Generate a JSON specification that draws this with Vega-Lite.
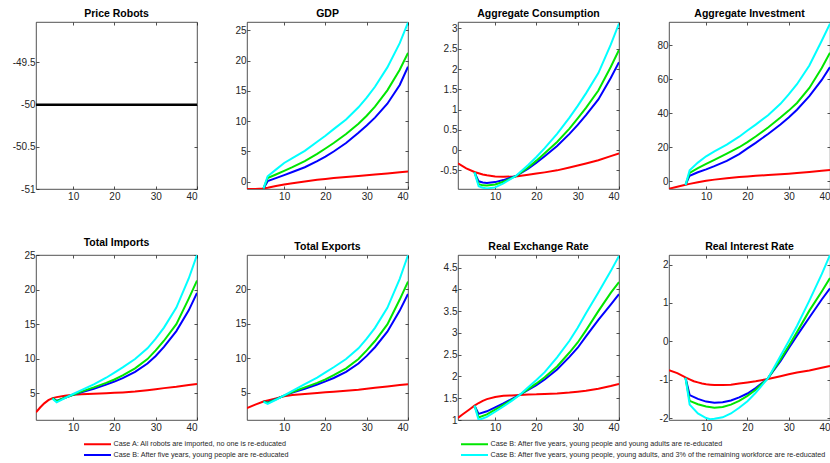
{
  "$schema": "https://vega.github.io/schema/vega-lite/v6.json",
  "padding": {"left": 0, "top": 8, "right": 0, "bottom": 0},
  "background": "white",
  "data": {"values": [
    {"p":"PR","t":1,"A":-50},{"p":"PR","t":40,"A":-50},

    {"p":"GDP","t":1,"A":-1.2},
    {"p":"GDP","t":3,"A":-1.2},
    {"p":"GDP","t":5,"A":-1.1,"B":-1.1,"G":-1.1,"C":-1.1},
    {"p":"GDP","t":6,"A":-0.98,"B":0.1,"G":0.6,"C":0.9},
    {"p":"GDP","t":8,"A":-0.7,"B":0.6,"G":1.2,"C":2.0},
    {"p":"GDP","t":10,"A":-0.45,"B":1.1,"G":1.8,"C":3.1},
    {"p":"GDP","t":12,"A":-0.25,"B":1.6,"G":2.4,"C":3.9},
    {"p":"GDP","t":15,"A":0.05,"B":2.4,"G":3.4,"C":5.1},
    {"p":"GDP","t":18,"A":0.32,"B":3.4,"G":4.6,"C":6.6},
    {"p":"GDP","t":20,"A":0.47,"B":4.15,"G":5.5,"C":7.6},
    {"p":"GDP","t":22,"A":0.6,"B":5.0,"G":6.4,"C":8.7},
    {"p":"GDP","t":25,"A":0.78,"B":6.4,"G":7.9,"C":10.3},
    {"p":"GDP","t":28,"A":0.95,"B":8.1,"G":9.6,"C":12.3},
    {"p":"GDP","t":30,"A":1.07,"B":9.3,"G":10.9,"C":13.9},
    {"p":"GDP","t":32,"A":1.2,"B":10.6,"G":12.4,"C":15.7},
    {"p":"GDP","t":35,"A":1.37,"B":12.9,"G":15.1,"C":18.9},
    {"p":"GDP","t":38,"A":1.57,"B":16.0,"G":18.5,"C":22.9},
    {"p":"GDP","t":40,"A":1.7,"B":19.0,"G":21.3,"C":26.3},

    {"p":"Cons","t":1,"A":-0.33},
    {"p":"Cons","t":3,"A":-0.45},
    {"p":"Cons","t":5,"A":-0.54,"B":-0.55,"G":-0.55,"C":-0.55},
    {"p":"Cons","t":6,"A":-0.57,"B":-0.77,"G":-0.84,"C":-0.89},
    {"p":"Cons","t":7,"A":-0.6,"B":-0.8,"G":-0.87,"C":-0.93},
    {"p":"Cons","t":8,"A":-0.62,"B":-0.81,"G":-0.875,"C":-0.95},
    {"p":"Cons","t":10,"A":-0.65,"B":-0.79,"G":-0.85,"C":-0.92},
    {"p":"Cons","t":12,"A":-0.66,"B":-0.74,"G":-0.78,"C":-0.82},
    {"p":"Cons","t":15,"A":-0.65,"B":-0.64,"G":-0.645,"C":-0.64},
    {"p":"Cons","t":18,"A":-0.61,"B":-0.46,"G":-0.43,"C":-0.37},
    {"p":"Cons","t":20,"A":-0.58,"B":-0.31,"G":-0.26,"C":-0.17},
    {"p":"Cons","t":22,"A":-0.55,"B":-0.15,"G":-0.08,"C":0.05},
    {"p":"Cons","t":25,"A":-0.5,"B":0.1,"G":0.2,"C":0.4},
    {"p":"Cons","t":28,"A":-0.43,"B":0.4,"G":0.53,"C":0.8},
    {"p":"Cons","t":30,"A":-0.38,"B":0.62,"G":0.78,"C":1.09},
    {"p":"Cons","t":32,"A":-0.33,"B":0.86,"G":1.04,"C":1.4},
    {"p":"Cons","t":35,"A":-0.25,"B":1.25,"G":1.47,"C":1.9},
    {"p":"Cons","t":38,"A":-0.15,"B":1.78,"G":2.05,"C":2.6},
    {"p":"Cons","t":40,"A":-0.08,"B":2.17,"G":2.47,"C":3.12},

    {"p":"Inv","t":1,"A":-4.3},
    {"p":"Inv","t":3,"A":-3.2},
    {"p":"Inv","t":5,"A":-2.0,"B":-2.1,"G":-2.1,"C":-2.1},
    {"p":"Inv","t":6,"A":-1.5,"B":3.3,"G":5.0,"C":6.5},
    {"p":"Inv","t":8,"A":-0.5,"B":5.3,"G":7.8,"C":11.0},
    {"p":"Inv","t":10,"A":0.4,"B":7.0,"G":10.2,"C":14.7},
    {"p":"Inv","t":12,"A":1.0,"B":8.9,"G":12.6,"C":17.6},
    {"p":"Inv","t":15,"A":1.8,"B":12.0,"G":16.3,"C":21.5},
    {"p":"Inv","t":18,"A":2.5,"B":16.0,"G":20.0,"C":26.2},
    {"p":"Inv","t":20,"A":2.9,"B":19.3,"G":23.0,"C":29.8},
    {"p":"Inv","t":22,"A":3.25,"B":22.6,"G":26.3,"C":33.3},
    {"p":"Inv","t":25,"A":3.7,"B":27.8,"G":31.6,"C":38.8},
    {"p":"Inv","t":28,"A":4.2,"B":33.3,"G":37.4,"C":45.5},
    {"p":"Inv","t":30,"A":4.5,"B":37.5,"G":41.5,"C":51.0},
    {"p":"Inv","t":32,"A":4.9,"B":42.0,"G":46.0,"C":57.0},
    {"p":"Inv","t":35,"A":5.5,"B":50.0,"G":54.8,"C":68.0},
    {"p":"Inv","t":38,"A":6.2,"B":59.5,"G":66.5,"C":82.5},
    {"p":"Inv","t":40,"A":6.6,"B":67.0,"G":75.5,"C":92.5},

    {"p":"Imp","t":1,"A":2.25},
    {"p":"Imp","t":2,"A":2.95},
    {"p":"Imp","t":3,"A":3.55},
    {"p":"Imp","t":4,"A":4.0},
    {"p":"Imp","t":5,"A":4.3,"B":4.3,"G":4.3,"C":4.2},
    {"p":"Imp","t":6,"A":4.45,"B":3.9,"G":3.85,"C":3.7},
    {"p":"Imp","t":8,"A":4.65,"B":4.35,"G":4.35,"C":4.3},
    {"p":"Imp","t":10,"A":4.8,"B":4.8,"G":4.8,"C":4.9},
    {"p":"Imp","t":12,"A":4.88,"B":5.15,"G":5.25,"C":5.45},
    {"p":"Imp","t":15,"A":4.95,"B":5.65,"G":5.85,"C":6.3},
    {"p":"Imp","t":18,"A":5.02,"B":6.25,"G":6.5,"C":7.25},
    {"p":"Imp","t":20,"A":5.07,"B":6.7,"G":7.0,"C":8.0},
    {"p":"Imp","t":22,"A":5.13,"B":7.2,"G":7.6,"C":8.75},
    {"p":"Imp","t":25,"A":5.25,"B":8.1,"G":8.6,"C":9.95},
    {"p":"Imp","t":28,"A":5.45,"B":9.3,"G":9.95,"C":11.5},
    {"p":"Imp","t":30,"A":5.6,"B":10.4,"G":11.2,"C":12.9},
    {"p":"Imp","t":32,"A":5.75,"B":11.7,"G":12.6,"C":14.5},
    {"p":"Imp","t":35,"A":5.95,"B":14.0,"G":15.0,"C":17.4},
    {"p":"Imp","t":38,"A":6.2,"B":17.0,"G":18.7,"C":21.6},
    {"p":"Imp","t":40,"A":6.35,"B":19.5,"G":21.3,"C":25.0},

    {"p":"Exp","t":1,"A":2.8},
    {"p":"Exp","t":3,"A":3.3},
    {"p":"Exp","t":5,"A":3.75,"B":3.75,"G":3.75,"C":3.7},
    {"p":"Exp","t":6,"A":3.9,"B":3.6,"G":3.55,"C":3.4},
    {"p":"Exp","t":8,"A":4.2,"B":4.1,"G":4.05,"C":4.0},
    {"p":"Exp","t":10,"A":4.5,"B":4.6,"G":4.6,"C":4.65},
    {"p":"Exp","t":12,"A":4.68,"B":5.05,"G":5.12,"C":5.3},
    {"p":"Exp","t":15,"A":4.85,"B":5.6,"G":5.8,"C":6.25},
    {"p":"Exp","t":18,"A":4.98,"B":6.2,"G":6.45,"C":7.2},
    {"p":"Exp","t":20,"A":5.07,"B":6.65,"G":6.95,"C":7.95},
    {"p":"Exp","t":22,"A":5.15,"B":7.15,"G":7.55,"C":8.7},
    {"p":"Exp","t":25,"A":5.3,"B":8.05,"G":8.55,"C":9.9},
    {"p":"Exp","t":28,"A":5.45,"B":9.25,"G":9.9,"C":11.45},
    {"p":"Exp","t":30,"A":5.6,"B":10.35,"G":11.15,"C":12.85},
    {"p":"Exp","t":32,"A":5.73,"B":11.6,"G":12.5,"C":14.4},
    {"p":"Exp","t":35,"A":5.92,"B":13.85,"G":14.9,"C":17.3},
    {"p":"Exp","t":38,"A":6.12,"B":16.9,"G":18.5,"C":21.5},
    {"p":"Exp","t":40,"A":6.25,"B":19.3,"G":21.1,"C":24.9},

    {"p":"RER","t":1,"A":1.05},
    {"p":"RER","t":2,"A":1.12},
    {"p":"RER","t":3,"A":1.19},
    {"p":"RER","t":4,"A":1.26},
    {"p":"RER","t":5,"A":1.33,"B":1.33,"G":1.33,"C":1.33},
    {"p":"RER","t":6,"A":1.39,"B":1.14,"G":1.06,"C":1.0},
    {"p":"RER","t":7,"A":1.44},
    {"p":"RER","t":8,"A":1.48,"B":1.2,"G":1.13,"C":1.07},
    {"p":"RER","t":10,"A":1.53,"B":1.29,"G":1.24,"C":1.19},
    {"p":"RER","t":12,"A":1.555,"B":1.38,"G":1.35,"C":1.31},
    {"p":"RER","t":14,"A":1.565,"B":1.48,"G":1.46,"C":1.44},
    {"p":"RER","t":16,"A":1.575,"B":1.58,"G":1.58,"C":1.58},
    {"p":"RER","t":18,"A":1.585,"B":1.69,"G":1.71,"C":1.75},
    {"p":"RER","t":20,"A":1.59,"B":1.8,"G":1.84,"C":1.92},
    {"p":"RER","t":22,"A":1.6,"B":1.93,"G":1.98,"C":2.1},
    {"p":"RER","t":25,"A":1.61,"B":2.16,"G":2.23,"C":2.44},
    {"p":"RER","t":28,"A":1.63,"B":2.45,"G":2.55,"C":2.82},
    {"p":"RER","t":30,"A":1.65,"B":2.66,"G":2.78,"C":3.12},
    {"p":"RER","t":32,"A":1.67,"B":2.92,"G":3.06,"C":3.45},
    {"p":"RER","t":35,"A":1.72,"B":3.3,"G":3.5,"C":3.93},
    {"p":"RER","t":38,"A":1.78,"B":3.65,"G":3.92,"C":4.42},
    {"p":"RER","t":40,"A":1.83,"B":3.89,"G":4.17,"C":4.77},

    {"p":"RIR","t":1,"A":-0.75},
    {"p":"RIR","t":3,"A":-0.83},
    {"p":"RIR","t":5,"A":-0.94,"B":-0.95,"G":-0.95,"C":-0.95},
    {"p":"RIR","t":6,"A":-0.99,"B":-1.4,"G":-1.55,"C":-1.65},
    {"p":"RIR","t":7,"A":-1.04},
    {"p":"RIR","t":8,"A":-1.07,"B":-1.5,"G":-1.64,"C":-1.88},
    {"p":"RIR","t":9,"A":-1.1},
    {"p":"RIR","t":10,"A":-1.12,"B":-1.57,"G":-1.7,"C":-2.0},
    {"p":"RIR","t":11,"A":-1.13,"C":-2.03},
    {"p":"RIR","t":12,"A":-1.14,"B":-1.6,"G":-1.73,"C":-2.02},
    {"p":"RIR","t":14,"A":-1.14,"B":-1.59,"G":-1.71,"C":-1.98},
    {"p":"RIR","t":16,"A":-1.13,"B":-1.54,"G":-1.65,"C":-1.88},
    {"p":"RIR","t":18,"A":-1.1,"B":-1.46,"G":-1.55,"C":-1.73},
    {"p":"RIR","t":20,"A":-1.07,"B":-1.36,"G":-1.42,"C":-1.56},
    {"p":"RIR","t":22,"A":-1.04,"B":-1.22,"G":-1.26,"C":-1.34},
    {"p":"RIR","t":25,"A":-0.98,"B":-0.96,"G":-0.96,"C":-0.96},
    {"p":"RIR","t":28,"A":-0.91,"B":-0.52,"G":-0.47,"C":-0.38},
    {"p":"RIR","t":30,"A":-0.86,"B":-0.18,"G":-0.12,"C":0.0},
    {"p":"RIR","t":32,"A":-0.81,"B":0.15,"G":0.24,"C":0.4},
    {"p":"RIR","t":35,"A":-0.76,"B":0.62,"G":0.8,"C":1.06},
    {"p":"RIR","t":38,"A":-0.69,"B":1.09,"G":1.3,"C":1.75},
    {"p":"RIR","t":40,"A":-0.64,"B":1.38,"G":1.65,"C":2.25}
  ]},
  "spacing": 33,
  "vconcat": [
    {"spacing": 13, "hconcat": [
      {"title": "Price Robots", "width": 161, "height": 167,
       "transform": [{"filter": "datum.p=='PR'"}, {"fold": ["A"], "as": ["c", "v"]}],
       "layer": [
        {"mark": {"type": "line", "color": "#000000", "strokeWidth": 2.5, "clip": true},
         "encoding": {
          "x": {"field": "t", "type": "quantitative", "scale": {"domain": [1, 40], "nice": false, "zero": false}, "axis": {"values": [10, 20, 30, 40], "title": null, "minExtent": 14, "maxExtent": 14}},
          "y": {"field": "v", "type": "quantitative", "scale": {"domain": [-51, -49.02], "nice": false, "zero": false}, "axis": {"values": [-51, -50.5, -50, -49.5], "labelExpr": "''+datum.value", "title": null, "minExtent": 35, "maxExtent": 35}}
         }},
        {"mark": {"type": "point", "opacity": 0, "size": 1, "clip": true},
         "encoding": {
          "x": {"field": "t", "type": "quantitative", "scale": {"domain": [1, 40], "nice": false, "zero": false}, "axis": {"orient": "top", "values": [10, 20, 30, 40], "labels": false, "title": null, "minExtent": 0, "maxExtent": 0}},
          "y": {"field": "v", "type": "quantitative", "scale": {"domain": [-51, -49.02], "nice": false, "zero": false}, "axis": {"orient": "right", "values": [-51, -50.5, -50, -49.5], "labels": false, "title": null, "minExtent": 0, "maxExtent": 0}}
         }}
       ],
       "resolve": {"axis": {"x": "independent", "y": "independent"}}
      },
      {"title": "GDP", "width": 161, "height": 167,
       "transform": [{"filter": "datum.p=='GDP'"}, {"fold": ["A", "B", "G", "C"], "as": ["c", "v"]}, {"filter": "isValid(datum.v)"}],
       "layer": [
        {"mark": {"type": "line", "strokeWidth": 2, "clip": true},
         "encoding": {
          "x": {"field": "t", "type": "quantitative", "scale": {"domain": [1, 40], "nice": false, "zero": false}, "axis": {"values": [10, 20, 30, 40], "title": null, "minExtent": 14, "maxExtent": 14}},
          "y": {"field": "v", "type": "quantitative", "scale": {"domain": [-1.2, 26.4], "nice": false, "zero": false}, "axis": {"values": [0, 5, 10, 15, 20, 25], "labelExpr": "''+datum.value", "title": null, "minExtent": 35, "maxExtent": 35}},
          "color": {"field": "c", "type": "nominal", "scale": {"domain": ["A", "B", "G", "C"], "range": ["#ff0000", "#0000ff", "#00e600", "#00ffff"]},
            "legend": {"orient": "none", "legendX": 56, "legendY": 416.5, "columns": 2, "columnPadding": 168, "rowPadding": 1, "symbolType": "M-3,0H3", "symbolSize": 81, "symbolStrokeWidth": 2, "labelFont": "Liberation Sans", "labelFontSize": 7.2, "labelColor": "#262626", "labelLimit": 0, "labelOffset": 10.5, "title": null,
              "labelExpr": "datum.label=='A' ? 'Case A: All robots are imported, no one is re-educated' : datum.label=='B' ? 'Case B: After five years, young people are re-educated' : datum.label=='G' ? 'Case B: After five years, young people and young adults are re-educated' : 'Case B: After five years, young people, young adults, and 3% of the remaining workforce are re-educated'"}}
         }},
        {"mark": {"type": "point", "opacity": 0, "size": 1, "clip": true},
         "encoding": {
          "x": {"field": "t", "type": "quantitative", "scale": {"domain": [1, 40], "nice": false, "zero": false}, "axis": {"orient": "top", "values": [10, 20, 30, 40], "labels": false, "title": null, "minExtent": 0, "maxExtent": 0}},
          "y": {"field": "v", "type": "quantitative", "scale": {"domain": [-1.2, 26.4], "nice": false, "zero": false}, "axis": {"orient": "right", "values": [0, 5, 10, 15, 20, 25], "labels": false, "title": null, "minExtent": 0, "maxExtent": 0}}
         }}
       ],
       "resolve": {"axis": {"x": "independent", "y": "independent"}}
      },
      {"title": "Aggregate Consumption", "width": 161, "height": 167,
       "transform": [{"filter": "datum.p=='Cons'"}, {"fold": ["A", "B", "G", "C"], "as": ["c", "v"]}, {"filter": "isValid(datum.v)"}],
       "layer": [
        {"mark": {"type": "line", "strokeWidth": 2, "clip": true},
         "encoding": {
          "x": {"field": "t", "type": "quantitative", "scale": {"domain": [1, 40], "nice": false, "zero": false}, "axis": {"values": [10, 20, 30, 40], "title": null, "minExtent": 14, "maxExtent": 14}},
          "y": {"field": "v", "type": "quantitative", "scale": {"domain": [-0.96, 3.16], "nice": false, "zero": false}, "axis": {"values": [-0.5, 0, 0.5, 1, 1.5, 2, 2.5, 3], "labelExpr": "''+datum.value", "title": null, "minExtent": 35, "maxExtent": 35}},
          "color": {"field": "c", "type": "nominal", "scale": {"domain": ["A", "B", "G", "C"], "range": ["#ff0000", "#0000ff", "#00e600", "#00ffff"]}}
         }},
        {"mark": {"type": "point", "opacity": 0, "size": 1, "clip": true},
         "encoding": {
          "x": {"field": "t", "type": "quantitative", "scale": {"domain": [1, 40], "nice": false, "zero": false}, "axis": {"orient": "top", "values": [10, 20, 30, 40], "labels": false, "title": null, "minExtent": 0, "maxExtent": 0}},
          "y": {"field": "v", "type": "quantitative", "scale": {"domain": [-0.96, 3.16], "nice": false, "zero": false}, "axis": {"orient": "right", "values": [-0.5, 0, 0.5, 1, 1.5, 2, 2.5, 3], "labels": false, "title": null, "minExtent": 0, "maxExtent": 0}}
         }}
       ],
       "resolve": {"axis": {"x": "independent", "y": "independent"}}
      },
      {"title": "Aggregate Investment", "width": 161, "height": 167,
       "transform": [{"filter": "datum.p=='Inv'"}, {"fold": ["A", "B", "G", "C"], "as": ["c", "v"]}, {"filter": "isValid(datum.v)"}],
       "layer": [
        {"mark": {"type": "line", "strokeWidth": 2, "clip": true},
         "encoding": {
          "x": {"field": "t", "type": "quantitative", "scale": {"domain": [1, 40], "nice": false, "zero": false}, "axis": {"values": [10, 20, 30, 40], "title": null, "minExtent": 14, "maxExtent": 14}},
          "y": {"field": "v", "type": "quantitative", "scale": {"domain": [-4.5, 93.5], "nice": false, "zero": false}, "axis": {"values": [0, 20, 40, 60, 80], "labelExpr": "''+datum.value", "title": null, "minExtent": 35, "maxExtent": 35}},
          "color": {"field": "c", "type": "nominal", "scale": {"domain": ["A", "B", "G", "C"], "range": ["#ff0000", "#0000ff", "#00e600", "#00ffff"]}}
         }},
        {"mark": {"type": "point", "opacity": 0, "size": 1, "clip": true},
         "encoding": {
          "x": {"field": "t", "type": "quantitative", "scale": {"domain": [1, 40], "nice": false, "zero": false}, "axis": {"orient": "top", "values": [10, 20, 30, 40], "labels": false, "title": null, "minExtent": 0, "maxExtent": 0}},
          "y": {"field": "v", "type": "quantitative", "scale": {"domain": [-4.5, 93.5], "nice": false, "zero": false}, "axis": {"orient": "right", "values": [0, 20, 40, 60, 80], "labels": false, "title": null, "minExtent": 0, "maxExtent": 0}}
         }}
       ],
       "resolve": {"axis": {"x": "independent", "y": "independent"}}
      }
    ]},
    {"spacing": 13, "hconcat": [
      {"title": "Total Imports", "width": 161, "height": 165,
       "transform": [{"filter": "datum.p=='Imp'"}, {"fold": ["A", "B", "G", "C"], "as": ["c", "v"]}, {"filter": "isValid(datum.v)"}],
       "layer": [
        {"mark": {"type": "line", "strokeWidth": 2, "clip": true},
         "encoding": {
          "x": {"field": "t", "type": "quantitative", "scale": {"domain": [1, 40], "nice": false, "zero": false}, "axis": {"values": [10, 20, 30, 40], "title": null, "minExtent": 14, "maxExtent": 14}},
          "y": {"field": "v", "type": "quantitative", "scale": {"domain": [1.14, 25.0], "nice": false, "zero": false}, "axis": {"values": [5, 10, 15, 20, 25], "labelExpr": "''+datum.value", "title": null, "minExtent": 35, "maxExtent": 35}},
          "color": {"field": "c", "type": "nominal", "scale": {"domain": ["A", "B", "G", "C"], "range": ["#ff0000", "#0000ff", "#00e600", "#00ffff"]}}
         }},
        {"mark": {"type": "point", "opacity": 0, "size": 1, "clip": true},
         "encoding": {
          "x": {"field": "t", "type": "quantitative", "scale": {"domain": [1, 40], "nice": false, "zero": false}, "axis": {"orient": "top", "values": [10, 20, 30, 40], "labels": false, "title": null, "minExtent": 0, "maxExtent": 0}},
          "y": {"field": "v", "type": "quantitative", "scale": {"domain": [1.14, 25.0], "nice": false, "zero": false}, "axis": {"orient": "right", "values": [5, 10, 15, 20, 25], "labels": false, "title": null, "minExtent": 0, "maxExtent": 0}}
         }}
       ],
       "resolve": {"axis": {"x": "independent", "y": "independent"}}
      },
      {"title": "Total Exports", "width": 161, "height": 165,
       "transform": [{"filter": "datum.p=='Exp'"}, {"fold": ["A", "B", "G", "C"], "as": ["c", "v"]}, {"filter": "isValid(datum.v)"}],
       "layer": [
        {"mark": {"type": "line", "strokeWidth": 2, "clip": true},
         "encoding": {
          "x": {"field": "t", "type": "quantitative", "scale": {"domain": [1, 40], "nice": false, "zero": false}, "axis": {"values": [10, 20, 30, 40], "title": null, "minExtent": 14, "maxExtent": 14}},
          "y": {"field": "v", "type": "quantitative", "scale": {"domain": [1.07, 24.95], "nice": false, "zero": false}, "axis": {"values": [5, 10, 15, 20], "labelExpr": "''+datum.value", "title": null, "minExtent": 35, "maxExtent": 35}},
          "color": {"field": "c", "type": "nominal", "scale": {"domain": ["A", "B", "G", "C"], "range": ["#ff0000", "#0000ff", "#00e600", "#00ffff"]}}
         }},
        {"mark": {"type": "point", "opacity": 0, "size": 1, "clip": true},
         "encoding": {
          "x": {"field": "t", "type": "quantitative", "scale": {"domain": [1, 40], "nice": false, "zero": false}, "axis": {"orient": "top", "values": [10, 20, 30, 40], "labels": false, "title": null, "minExtent": 0, "maxExtent": 0}},
          "y": {"field": "v", "type": "quantitative", "scale": {"domain": [1.07, 24.95], "nice": false, "zero": false}, "axis": {"orient": "right", "values": [5, 10, 15, 20], "labels": false, "title": null, "minExtent": 0, "maxExtent": 0}}
         }}
       ],
       "resolve": {"axis": {"x": "independent", "y": "independent"}}
      },
      {"title": "Real Exchange Rate", "width": 161, "height": 165,
       "transform": [{"filter": "datum.p=='RER'"}, {"fold": ["A", "B", "G", "C"], "as": ["c", "v"]}, {"filter": "isValid(datum.v)"}],
       "layer": [
        {"mark": {"type": "line", "strokeWidth": 2, "clip": true},
         "encoding": {
          "x": {"field": "t", "type": "quantitative", "scale": {"domain": [1, 40], "nice": false, "zero": false}, "axis": {"values": [10, 20, 30, 40], "title": null, "minExtent": 14, "maxExtent": 14}},
          "y": {"field": "v", "type": "quantitative", "scale": {"domain": [1.0, 4.79], "nice": false, "zero": false}, "axis": {"values": [1, 1.5, 2, 2.5, 3, 3.5, 4, 4.5], "labelExpr": "''+datum.value", "title": null, "minExtent": 35, "maxExtent": 35}},
          "color": {"field": "c", "type": "nominal", "scale": {"domain": ["A", "B", "G", "C"], "range": ["#ff0000", "#0000ff", "#00e600", "#00ffff"]}}
         }},
        {"mark": {"type": "point", "opacity": 0, "size": 1, "clip": true},
         "encoding": {
          "x": {"field": "t", "type": "quantitative", "scale": {"domain": [1, 40], "nice": false, "zero": false}, "axis": {"orient": "top", "values": [10, 20, 30, 40], "labels": false, "title": null, "minExtent": 0, "maxExtent": 0}},
          "y": {"field": "v", "type": "quantitative", "scale": {"domain": [1.0, 4.79], "nice": false, "zero": false}, "axis": {"orient": "right", "values": [1, 1.5, 2, 2.5, 3, 3.5, 4, 4.5], "labels": false, "title": null, "minExtent": 0, "maxExtent": 0}}
         }}
       ],
       "resolve": {"axis": {"x": "independent", "y": "independent"}}
      },
      {"title": "Real Interest Rate", "width": 161, "height": 165,
       "transform": [{"filter": "datum.p=='RIR'"}, {"fold": ["A", "B", "G", "C"], "as": ["c", "v"]}, {"filter": "isValid(datum.v)"}],
       "layer": [
        {"mark": {"type": "line", "strokeWidth": 2, "clip": true},
         "encoding": {
          "x": {"field": "t", "type": "quantitative", "scale": {"domain": [1, 40], "nice": false, "zero": false}, "axis": {"values": [10, 20, 30, 40], "title": null, "minExtent": 14, "maxExtent": 14}},
          "y": {"field": "v", "type": "quantitative", "scale": {"domain": [-2.05, 2.25], "nice": false, "zero": false}, "axis": {"values": [-2, -1, 0, 1, 2], "labelExpr": "''+datum.value", "title": null, "minExtent": 35, "maxExtent": 35}},
          "color": {"field": "c", "type": "nominal", "scale": {"domain": ["A", "B", "G", "C"], "range": ["#ff0000", "#0000ff", "#00e600", "#00ffff"]}}
         }},
        {"mark": {"type": "point", "opacity": 0, "size": 1, "clip": true},
         "encoding": {
          "x": {"field": "t", "type": "quantitative", "scale": {"domain": [1, 40], "nice": false, "zero": false}, "axis": {"orient": "top", "values": [10, 20, 30, 40], "labels": false, "title": null, "minExtent": 0, "maxExtent": 0}},
          "y": {"field": "v", "type": "quantitative", "scale": {"domain": [-2.05, 2.25], "nice": false, "zero": false}, "axis": {"orient": "right", "values": [-2, -1, 0, 1, 2], "labels": false, "title": null, "minExtent": 0, "maxExtent": 0}}
         }}
       ],
       "resolve": {"axis": {"x": "independent", "y": "independent"}}
      }
    ]}
  ],
  "config": {
    "view": {"stroke": "#262626", "strokeWidth": 0.8},
    "axis": {"grid": false, "domain": false, "tickSize": -3, "tickColor": "#262626", "tickWidth": 0.8, "labelFont": "Liberation Sans", "labelFontSize": 10, "labelColor": "#262626", "labelPadding": 4},
    "axisX": {"labelPadding": 5},
    "title": {"font": "Liberation Sans", "fontSize": 10.5, "fontWeight": "bold", "color": "#000000", "offset": 0, "dy": 2, "anchor": "middle"}
  }
}
